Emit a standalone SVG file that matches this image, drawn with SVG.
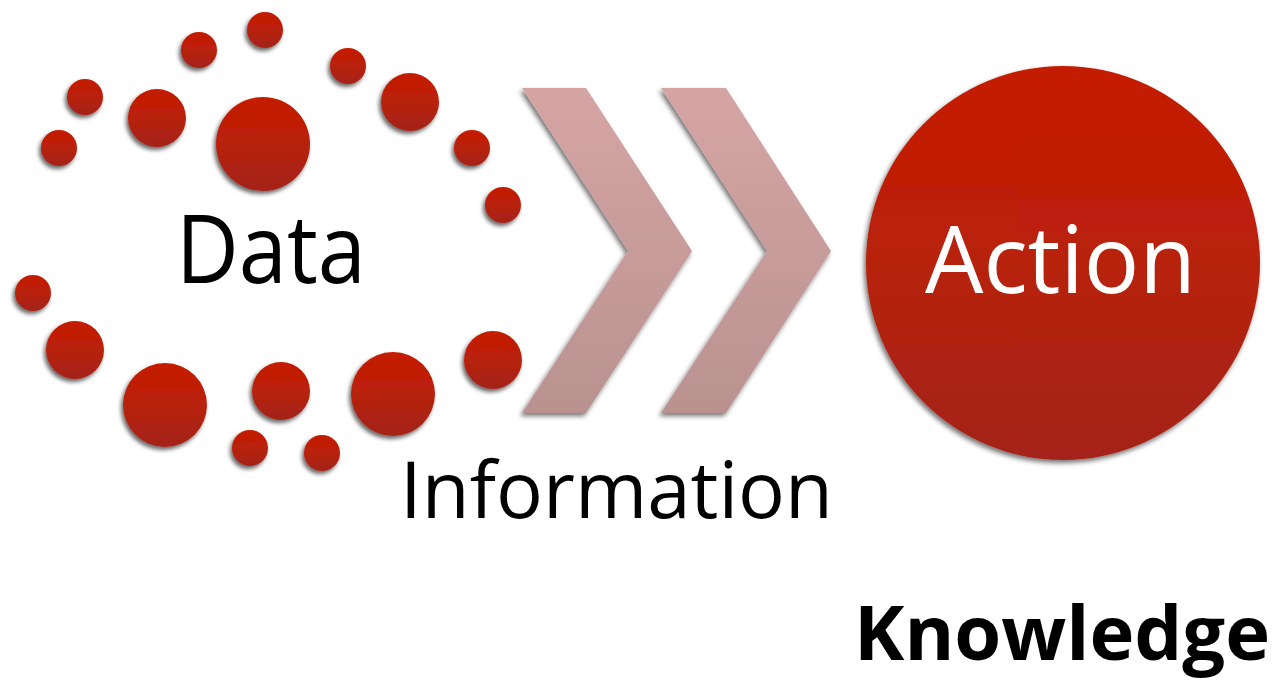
<svg xmlns="http://www.w3.org/2000/svg" width="1277" height="683" viewBox="0 0 1277 683">
<defs>
<linearGradient id="red" x1="0" y1="0" x2="0" y2="1">
<stop offset="0" stop-color="#C41C00"/>
<stop offset="0.3" stop-color="#BF1F06"/>
<stop offset="1" stop-color="#A4241A"/>
</linearGradient>
<linearGradient id="pink" x1="0" y1="0" x2="0" y2="1">
<stop offset="0" stop-color="#D5A5A4"/>
<stop offset="1" stop-color="#B99290"/>
</linearGradient>
<filter id="sh" x="-30%" y="-30%" width="160%" height="160%">
<feDropShadow dx="-2" dy="3" stdDeviation="2" flood-color="#000" flood-opacity="0.6"/>
</filter>
<filter id="shc" x="-10%" y="-10%" width="120%" height="120%">
<feDropShadow dx="-2" dy="3" stdDeviation="2.5" flood-color="#000" flood-opacity="0.55"/>
</filter>
</defs>
<style>
.dot{fill:url(#red);filter:url(#sh)}
.chev{fill:url(#pink);filter:url(#shc)}
.lbl{font-family:"Open Sans","Liberation Sans",sans-serif;fill:#000}
</style>
<rect width="1277" height="683" fill="#fff"/>
<g id="data">
<circle class="dot" cx="199" cy="50" r="18"/>
<circle class="dot" cx="265" cy="30" r="18"/>
<circle class="dot" cx="348" cy="66" r="18"/>
<circle class="dot" cx="410" cy="102" r="29"/>
<circle class="dot" cx="472" cy="148" r="18"/>
<circle class="dot" cx="503" cy="205" r="18"/>
<circle class="dot" cx="263" cy="144" r="47"/>
<circle class="dot" cx="157" cy="118" r="29"/>
<circle class="dot" cx="85" cy="97" r="18"/>
<circle class="dot" cx="59" cy="148" r="18"/>
<circle class="dot" cx="33" cy="293" r="18"/>
<circle class="dot" cx="75" cy="350" r="29"/>
<circle class="dot" cx="165" cy="405" r="42"/>
<circle class="dot" cx="281" cy="391" r="29"/>
<circle class="dot" cx="393" cy="394" r="42"/>
<circle class="dot" cx="493" cy="360" r="29"/>
<circle class="dot" cx="250" cy="448" r="18"/>
<circle class="dot" cx="322" cy="453" r="18"/>
<text class="lbl" x="176" y="283" font-size="96" textLength="190" lengthAdjust="spacingAndGlyphs">Data</text>
</g>
<g id="connectors">
<polygon class="chev" points="522,88 586,88 692,251 586,413 522,413 628,251"/>
<polygon class="chev" points="661,88 726,88 831,251 726,413 661,413 767,251"/>
</g>
<g id="information">
<text class="lbl" x="400" y="518" font-size="79" textLength="433" lengthAdjust="spacingAndGlyphs">Information</text>
</g>
<g id="action">
<circle cx="1063" cy="263" r="197" fill="url(#red)" filter="url(#shc)"/>
<text x="925" y="293" font-family="'Open Sans','Liberation Sans',sans-serif" font-size="93" fill="#fff" textLength="271" lengthAdjust="spacingAndGlyphs">Action</text>
</g>
<g id="knowledge">
<text class="lbl" x="854" y="660" font-size="76" font-weight="bold" textLength="416" lengthAdjust="spacingAndGlyphs">Knowledge</text>
</g>
</svg>
